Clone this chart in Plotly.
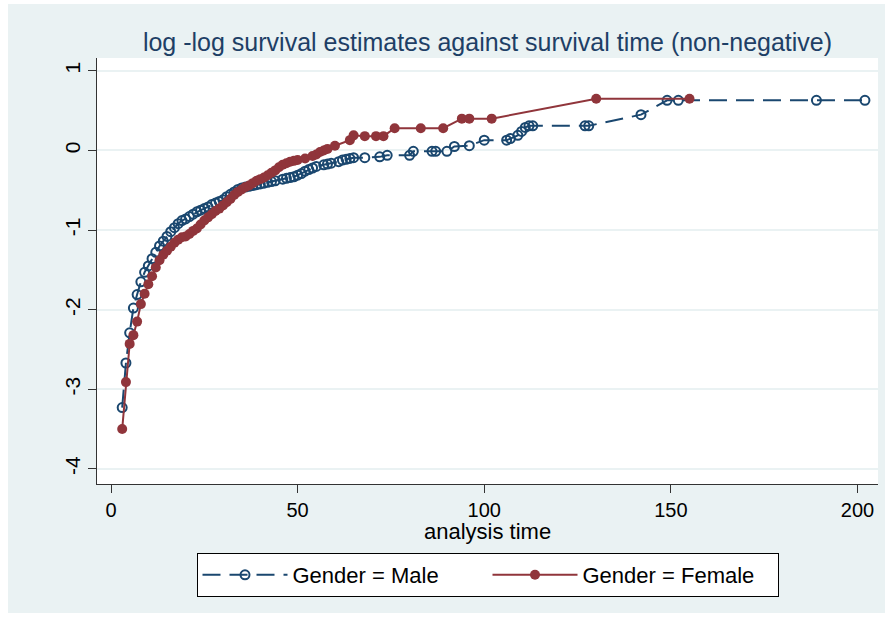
import plotly.graph_objects as go

# ---- data ----
male_time = [3, 4, 5, 6, 7, 8, 9, 10, 11, 12, 13, 14, 15, 16, 17, 18, 19, 20, 21, 22, 23, 24, 25,
             26, 27, 28, 29, 30, 31, 32, 33, 34, 35, 36, 37, 38, 39, 40, 41, 42, 43, 44, 46, 47,
             48, 49, 50, 51, 52, 53, 54, 55, 57, 58, 59, 61, 62, 63, 64, 65, 68, 72, 74, 80, 81,
             86, 87, 90, 92, 96, 100, 106, 107, 109, 110, 111, 112, 113, 127, 128, 142, 149, 152,
             189, 202]
male_lls = [-3.23, -2.67, -2.29, -1.98, -1.81, -1.65, -1.53, -1.45, -1.36, -1.28, -1.20, -1.14,
            -1.08, -1.02, -0.97, -0.92, -0.88, -0.86, -0.83, -0.80, -0.77, -0.75, -0.73, -0.71,
            -0.68, -0.66, -0.64, -0.62, -0.58, -0.55, -0.52, -0.49, -0.47, -0.46, -0.45, -0.44,
            -0.43, -0.42, -0.41, -0.40, -0.39, -0.38, -0.36, -0.35, -0.34, -0.33, -0.31, -0.29,
            -0.26, -0.24, -0.22, -0.20, -0.18, -0.17, -0.16, -0.14, -0.12, -0.11, -0.10, -0.09,
            -0.09, -0.08, -0.06, -0.06, -0.01, -0.01, -0.01, -0.01, 0.05, 0.06, 0.13, 0.13, 0.15,
            0.19, 0.24, 0.29, 0.31, 0.31, 0.31, 0.31, 0.45, 0.63, 0.63, 0.63, 0.63]

female_time = [3, 4, 5, 6, 7, 8, 9, 10, 11, 12, 13, 14, 15, 16, 17, 18, 19, 20, 21, 22, 23, 24,
               25, 26, 27, 28, 29, 30, 31, 32, 33, 34, 35, 36, 37, 38, 39, 40, 41, 42, 43, 44,
               45, 46, 47, 48, 49, 50, 52, 54, 55, 56, 57, 58, 60, 64, 65, 68, 71, 73, 76, 83,
               89, 94, 96, 102, 130, 155]
female_lls = [-3.50, -2.91, -2.43, -2.32, -2.15, -1.93, -1.80, -1.68, -1.58, -1.47, -1.38, -1.31,
              -1.26, -1.21, -1.16, -1.12, -1.09, -1.08, -1.05, -1.01, -0.98, -0.93, -0.88, -0.84,
              -0.80, -0.76, -0.73, -0.69, -0.65, -0.61, -0.56, -0.52, -0.49, -0.46, -0.44, -0.41,
              -0.38, -0.36, -0.34, -0.31, -0.28, -0.25, -0.21, -0.18, -0.16, -0.14, -0.13, -0.12,
              -0.10, -0.07, -0.05, -0.02, 0.00, 0.02, 0.06, 0.13, 0.19, 0.18, 0.18, 0.18, 0.28,
              0.28, 0.28, 0.40, 0.40, 0.40, 0.65, 0.65]

x_ticks = [0, 50, 100, 150, 200]
y_ticks = [-4, -3, -2, -1, 0, 1]
y_tick_labels = ["-4", "-3", "-2", "-1", "0", "1"]

NAVY = "#1A476F"
MAROON = "#90353B"
BG = "#EAF2F3"
FONT = "Liberation Sans, Arial, sans-serif"

W, H = 890, 619
ML, MR, MT, MB = 97, 12, 58, 135

fig = go.Figure()
fig.add_trace(go.Scatter(
    x=male_time, y=male_lls, mode="lines+markers", name="Gender = Male",
    line=dict(color=NAVY, width=2, dash="18px,9px"),
    marker=dict(symbol="circle-open", size=9, color=NAVY, line=dict(width=2, color=NAVY)),
))
fig.add_trace(go.Scatter(
    x=female_time, y=female_lls, mode="lines+markers", name="Gender = Female",
    line=dict(color=MAROON, width=2),
    marker=dict(symbol="circle", size=10, color=MAROON),
))

pw = W - ML - MR
ph = H - MT - MB
def px_x(p):
    return (p - ML) / pw
def px_y(p):
    return (H - MB - p) / ph

shapes = []
# thin white border around the light graph region
for (x0, x1, y0, y1) in [(0, 8, 0, H), (885, W, 0, H), (0, W, 0, 4), (0, W, 613, H)]:
    shapes.append(dict(type="rect", xref="paper", yref="paper",
                       x0=px_x(x0), x1=px_x(x1), y0=px_y(y1), y1=px_y(y0),
                       fillcolor="white", line=dict(width=0), layer="above"))

fig.update_layout(
    width=W, height=H,
    margin=dict(l=ML, r=MR, t=MT, b=MB, pad=0),
    paper_bgcolor=BG, plot_bgcolor="white",
    font=dict(family=FONT, size=20, color="black"),
    title=dict(text="log -log survival estimates against survival time (non-negative)",
               x=487.5 / W, xanchor="center", y=1 - 42 / H, yanchor="middle",
               font=dict(family=FONT, size=25, color="#1E3F66")),
    xaxis=dict(range=[-3.75, 205.5], tickvals=x_ticks, showgrid=False, zeroline=False,
               showline=True, linecolor="#333333", linewidth=1, ticks="outside", ticklen=8,
               tickcolor="#333333", tickfont=dict(size=20)),
    yaxis=dict(range=[-4.19, 1.162], tickvals=y_ticks, ticktext=y_tick_labels,
               showgrid=True, gridcolor=BG, gridwidth=1.5,
               zeroline=False, showline=True, linecolor="#333333", linewidth=1, ticks="outside",
               ticklen=8, tickcolor="#333333", tickangle=-90, tickfont=dict(size=21)),
    legend=dict(orientation="h", x=0.5, xanchor="center", y=-(553 - (H - MB)) / ph, yanchor="top",
                bgcolor="white", bordercolor="black", borderwidth=1,
                font=dict(size=22), entrywidth=190, itemwidth=85),
    annotations=[dict(text="analysis time", xref="paper", yref="paper",
                      x=px_x(487.5), y=px_y(531), xanchor="center", yanchor="middle",
                      showarrow=False, font=dict(size=22, color="black"))],
    shapes=shapes,
)

fig.write_html("out.html")
